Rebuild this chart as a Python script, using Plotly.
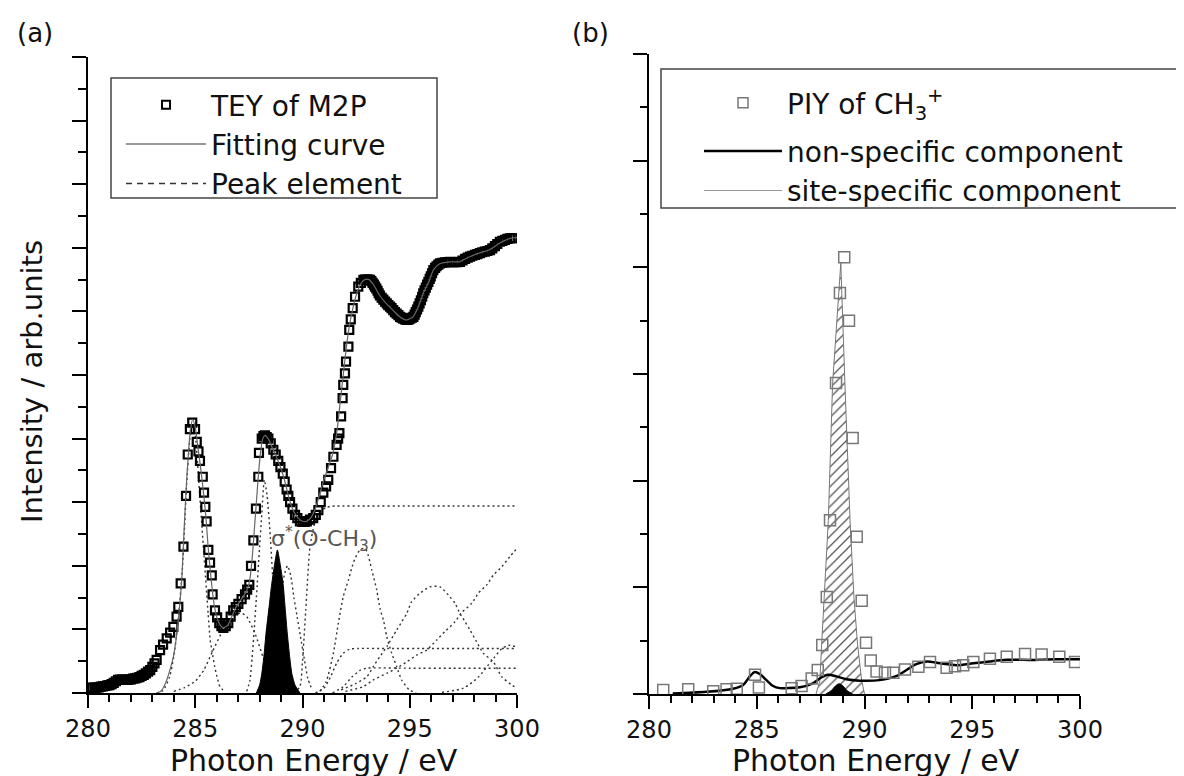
import plotly.graph_objects as go

FONT = "DejaVu Sans"

# ---------------- Panel (a): TEY of M2P ----------------
tey_x = [280.0, 280.1, 280.2, 280.3, 280.4, 280.5, 280.6, 280.7, 280.8, 280.9, 281.0, 281.1, 281.2, 281.3,
         281.4, 281.5, 281.6, 281.7, 281.8, 281.9, 282.0, 282.1, 282.2, 282.3, 282.4, 282.5, 282.6, 282.7,
         282.8, 282.9, 283.0, 283.1, 283.2, 283.36, 283.5, 283.67, 283.83, 283.98, 284.13, 284.21,
         284.32, 284.45, 284.57, 284.65, 284.75, 284.86, 284.99, 285.07, 285.15, 285.22, 285.35, 285.41,
         285.47, 285.53, 285.61, 285.69, 285.77, 285.81, 285.92, 286.02, 286.12, 286.22, 286.31, 286.42,
         286.54, 286.65, 286.77, 286.89, 287.01, 287.16, 287.32, 287.42, 287.52, 287.6, 287.71, 287.83,
         287.94, 287.97, 288.1, 288.18, 288.25, 288.33, 288.41, 288.52, 288.64, 288.75, 288.87, 288.97,
         289.08, 289.17, 289.26, 289.34, 289.42, 289.53, 289.65, 289.76, 289.88, 290.0, 290.1, 290.2,
         290.35, 290.5, 290.62, 290.74, 290.85, 290.97, 291.1, 291.2, 291.33, 291.44, 291.59, 291.66,
         291.72, 291.8, 291.87, 291.9, 291.98, 292.03, 292.14, 292.18, 292.25, 292.34, 292.45, 292.6,
         292.72, 292.84, 292.92, 293.0, 293.08, 293.15, 293.21, 293.27, 293.33, 293.38, 293.44, 293.5,
         293.55, 293.61, 293.69, 293.77, 293.85, 293.93, 294.0, 294.08, 294.15, 294.23, 294.31, 294.39,
         294.47, 294.55, 294.62, 294.7, 294.78, 294.86, 294.94, 295.02, 295.1, 295.17, 295.23, 295.28,
         295.34, 295.4, 295.46, 295.52, 295.58, 295.63, 295.69, 295.75, 295.81, 295.87, 295.93, 295.98,
         296.04, 296.1, 296.18, 296.25, 296.33, 296.41, 296.52, 296.64, 296.76, 296.88, 296.99, 297.1,
         297.22, 297.34, 297.46, 297.58, 297.7, 297.81, 297.92, 298.04, 298.15, 298.27, 298.38, 298.5,
         298.62, 298.74, 298.85, 298.97, 299.08, 299.2, 299.32, 299.44, 299.55, 299.67, 299.78, 299.9]
tey_y = [0.16, 0.16, 0.16, 0.17, 0.17, 0.18, 0.2, 0.21, 0.22, 0.24, 0.25, 0.28, 0.32, 0.37,
         0.41, 0.42, 0.42, 0.41, 0.41, 0.42, 0.43, 0.45, 0.46, 0.48, 0.5, 0.54, 0.57, 0.62,
         0.67, 0.72, 0.82, 0.93, 1.04, 1.35, 1.52, 1.72, 1.9, 2.08, 2.4, 2.71,
         3.45, 4.6, 6.2, 7.5, 8.3, 8.5, 8.3, 7.9, 7.6, 7.3, 6.8, 6.3,
         5.85, 5.4, 4.5, 4.1, 3.7, 3.1, 2.6, 2.38, 2.2, 2.1, 2.05, 2.1,
         2.2, 2.4, 2.6, 2.7, 2.8, 2.95, 3.1, 3.25, 3.4, 4.0, 4.8, 5.8,
         6.8, 7.55, 8.0, 8.08, 8.1, 8.05, 8.0, 7.85, 7.65, 7.5, 7.3, 7.1,
         6.9, 6.65, 6.4, 6.2, 6.0, 5.8, 5.6, 5.5, 5.4, 5.38, 5.38, 5.4,
         5.45, 5.5, 5.6, 5.75, 6.0, 6.3, 6.5, 6.7, 7.07, 7.43, 7.8, 8.0,
         8.17, 8.7, 9.27, 9.69, 10.05, 10.42, 10.89, 11.42, 11.75, 12.1, 12.46, 12.78,
         12.9, 12.99, 13.0, 13.0, 13.0, 12.99, 12.95, 12.9, 12.84, 12.78, 12.72, 12.65,
         12.57, 12.5, 12.43, 12.37, 12.31, 12.25, 12.2, 12.15, 12.1, 12.04, 11.98, 11.93,
         11.88, 11.83, 11.8, 11.77, 11.75, 11.73, 11.74, 11.77, 11.8, 11.83, 11.9, 11.98,
         12.06, 12.15, 12.25, 12.35, 12.46, 12.57, 12.66, 12.75, 12.84, 12.93, 13.02, 13.1,
         13.2, 13.3, 13.37, 13.42, 13.47, 13.51, 13.53, 13.54, 13.55, 13.56, 13.55, 13.55,
         13.55, 13.56, 13.6, 13.65, 13.69, 13.72, 13.75, 13.78, 13.8, 13.83, 13.86, 13.88,
         13.9, 13.93, 13.98, 14.05, 14.12, 14.19, 14.22, 14.25, 14.28, 14.3, 14.3, 14.3]

fit_x = [283.2, 283.36, 283.5, 283.67, 283.85, 283.98, 284.1, 284.21, 284.3, 284.37, 284.48, 284.6,
         284.7, 284.78, 284.88, 285.0, 285.1, 285.2, 285.3, 285.4, 285.5, 285.6, 285.7, 285.8, 285.9,
         286.0, 286.15, 286.3, 286.5, 286.7, 286.9, 287.1, 287.3, 287.45, 287.55, 287.65, 287.75,
         287.85, 287.95, 288.05, 288.15, 288.25, 288.4, 288.6, 288.8, 289.0, 289.2, 289.4, 289.6,
         289.8, 290.0, 290.2, 290.4, 290.6, 290.8, 291.0, 291.2, 291.4, 291.6, 291.75, 291.9, 292.05,
         292.2, 292.35, 292.5, 292.7, 292.9, 293.1, 293.3, 293.6, 293.9, 294.2, 294.5, 294.85, 295.15,
         295.4, 295.65, 295.9, 296.1, 296.4, 296.9, 297.3, 297.8, 298.3, 298.7, 299.2, 299.7, 300.0]
fit_y = [0.0, 0.04, 0.15, 0.41, 0.8, 1.14, 1.65, 2.3, 2.95, 3.55, 5.13, 6.7,
         7.7, 8.3, 8.6, 8.35, 7.85, 7.35, 6.8, 6.2, 5.5, 4.6, 3.85, 3.2, 2.7,
         2.4, 2.15, 2.05, 2.12, 2.4, 2.7, 2.9, 3.1, 3.3, 3.6, 4.2, 5.1,
         6.0, 6.9, 7.6, 8.0, 8.1, 8.0, 7.7, 7.4, 7.05, 6.6, 6.05, 5.7,
         5.5, 5.4, 5.4, 5.52, 5.8, 6.25, 6.7, 7.1, 7.5, 8.2, 9.1, 10.0, 10.9,
         11.6, 12.1, 12.5, 12.85, 13.0, 13.0, 12.85, 12.5, 12.25, 12.05, 11.85, 11.73, 11.83,
         12.15, 12.6, 12.95, 13.3, 13.5, 13.56, 13.56, 13.72, 13.85, 13.93, 14.15, 14.3, 14.32]

# Peak elements (dotted)
pk1_x = [283.2, 283.5, 283.8, 284.0, 284.2, 284.4, 284.5, 284.6, 284.75, 284.86, 285.0, 285.2, 285.4,
         285.6, 285.7, 285.8, 285.9, 286.0, 286.15, 286.4]
pk1_y = [0.0, 0.08, 0.5, 1.15, 2.25, 3.9, 5.2, 6.6, 8.0, 8.4, 8.1, 6.3, 4.4,
         2.5, 1.65, 1.25, 0.85, 0.55, 0.2, 0.03]
pkb_x = [284.0, 284.5, 285.0, 285.4, 285.8, 286.2, 286.6, 287.0, 287.2, 287.4, 287.8, 288.2, 288.6, 289.0, 289.4]
pkb_y = [0.05, 0.17, 0.37, 0.72, 1.3, 1.85, 2.3, 2.5, 2.5, 2.4, 1.85, 1.05, 0.45, 0.12, 0.0]
pk2_x = [287.4, 287.55, 287.65, 287.75, 287.85, 288.0, 288.1, 288.22, 288.35, 288.5, 288.65, 288.8,
         288.95, 289.1, 289.3]
pk2_y = [0.05, 0.4, 1.1, 2.0, 3.0, 4.6, 5.6, 6.7, 6.2, 4.9, 3.2, 1.7, 0.8, 0.3, 0.05]
pk3_x = [288.2, 288.5, 288.8, 289.0, 289.15, 289.3, 289.45, 289.6, 289.75, 289.9, 290.1, 290.25, 290.45]
pk3_y = [0.1, 0.4, 1.8, 3.0, 3.7, 4.0, 3.7, 3.0, 2.4, 1.8, 1.0, 0.45, 0.1]
step1_x = [289.6, 289.88, 290.0, 290.15, 290.35, 290.55, 290.8, 291.1, 291.3, 291.6, 293.0, 295.0, 297.0, 300.0]
step1_y = [0.0, 0.2, 1.0, 2.6, 4.6, 5.3, 5.7, 5.83, 5.87, 5.88, 5.88, 5.88, 5.88, 5.88]
step2_x = [290.6, 291.0, 291.3, 291.6, 291.9, 292.2, 292.6, 294.0, 296.0, 298.0, 300.0]
step2_y = [0.0, 0.15, 0.5, 0.95, 1.25, 1.38, 1.4, 1.4, 1.4, 1.4, 1.4]
step3_x = [291.4, 291.9, 292.3, 292.7, 293.0, 295.0, 297.0, 300.0]
step3_y = [0.0, 0.2, 0.5, 0.72, 0.78, 0.78, 0.78, 0.78]
pk5_x = [290.8, 291.1, 291.44, 291.67, 291.9, 292.14, 292.29, 292.45, 292.68, 292.85, 292.99, 293.23,
         293.46, 293.61, 293.77, 293.93, 294.16, 294.39, 294.63, 294.98, 295.3]
pk5_y = [0.05, 0.35, 1.25, 2.19, 3.03, 3.55, 3.92, 4.23, 4.5, 4.55, 4.47, 3.87,
         3.24, 2.66, 2.3, 1.77, 1.25, 0.83, 0.4, 0.1, 0.0]
pk6_x = [291.8, 292.5, 293.0, 293.3, 293.6, 293.93, 294.39, 294.63, 294.86, 295.09, 295.48, 295.94,
         296.41, 296.8, 297.11, 297.34, 297.58, 297.81, 298.12, 298.43, 298.9, 299.29, 299.76, 300.0]
pk6_y = [0.1, 0.3, 0.51, 0.83, 1.14, 1.46, 1.98, 2.24, 2.5, 2.87, 3.14, 3.34,
         3.34, 3.08, 2.82, 2.5, 2.24, 1.98, 1.61, 1.25, 0.98, 0.51, 0.25, 0.15]
pk7_x = [292.0, 292.83, 293.3, 293.93, 294.39, 294.86, 295.32, 295.79, 296.26, 296.64, 297.11, 297.42,
         297.89, 298.2, 298.59, 298.9, 299.29, 299.67, 300.0]
pk7_y = [0.05, 0.2, 0.41, 0.62, 0.78, 0.98, 1.19, 1.35, 1.67, 1.93, 2.24, 2.53,
         2.82, 3.14, 3.4, 3.71, 3.97, 4.29, 4.55]
pk8_x = [296.5, 297.5, 298.2, 298.8, 299.3, 299.6, 300.0]
pk8_y = [0.02, 0.15, 0.5, 1.0, 1.4, 1.5, 1.45]

# sigma*(O-CH3) element (filled black)
sig_x = [287.85, 288.0, 288.1, 288.2, 288.3, 288.45, 288.56, 288.7, 288.83, 288.96, 289.1, 289.2,
         289.29, 289.4, 289.5, 289.65, 289.88]
sig_y = [0.0, 0.25, 0.6, 1.15, 1.88, 2.75, 3.4, 4.05, 4.5, 4.05, 3.4, 2.6,
         1.88, 1.15, 0.62, 0.25, 0.0]

# ---------------- Panel (b): PIY of CH3+ ----------------
piy_x = [280.66, 281.82, 282.98, 283.6, 284.07, 284.92, 285.1, 286.62, 287.08, 287.55, 287.83, 288.04,
         288.25, 288.4, 288.68, 288.86, 289.06, 289.28, 289.45, 289.64, 289.87, 290.07, 290.29, 290.56,
         290.95, 291.34, 291.88, 292.5, 293.04, 293.81, 294.2, 294.58, 295.05, 295.82, 296.6, 297.45,
         298.22, 299.04, 299.77]
piy_y = [0.075, 0.09, 0.05, 0.09, 0.1, 0.36, 0.12, 0.11, 0.15, 0.29, 0.45, 0.92,
         1.82, 3.26, 5.83, 7.52, 8.19, 7.0, 4.8, 2.95, 1.75, 0.96, 0.63, 0.42,
         0.4, 0.4, 0.46, 0.51, 0.6, 0.49, 0.52, 0.54, 0.6, 0.66, 0.7, 0.75,
         0.74, 0.7, 0.6]

nonspec_x = [281.1, 282.66, 283.9, 284.37, 284.68, 284.9, 285.14, 285.45, 285.76, 286.07, 286.38, 287.0,
             287.6, 288.0, 288.3, 288.7, 289.16, 289.78, 290.7, 291.5, 291.95, 292.4, 292.9, 293.5,
             294.27, 295.05, 295.8, 296.6, 297.37, 298.14, 298.9, 300.0]
nonspec_y = [0.01, 0.04, 0.1, 0.17, 0.33, 0.41, 0.375, 0.26, 0.15, 0.11, 0.11, 0.125,
             0.2, 0.31, 0.36, 0.33, 0.275, 0.25, 0.26, 0.34, 0.45, 0.56, 0.61, 0.575,
             0.54, 0.575, 0.61, 0.64, 0.64, 0.64, 0.65, 0.65]

site_x = [287.75, 287.93, 288.01, 288.14, 288.32, 288.52, 288.9, 289.09, 289.33, 289.51, 289.68, 289.87, 290.0]
site_y = [0.0, 0.25, 0.92, 1.81, 3.25, 5.83, 8.08, 5.83, 3.25, 1.81, 0.92, 0.25, 0.0]

small_x = [288.2, 288.45, 288.65, 288.82, 289.0, 289.2, 289.45]
small_y = [0.0, 0.06, 0.15, 0.19, 0.15, 0.06, 0.0]

x_ticks = [280, 285, 290, 295, 300]
x_ticktext = ["280", "285", "290", "295", "300"]

W, H = 1184, 776
OFF = 8  # page body margin in the browser


def px_x(p):
    return (p - OFF) / W


def px_y(p):
    return 1 - (p - OFF) / H


fig = go.Figure()

dot = dict(color="#333333", width=1.4, dash="2px,3px")

# ---- legend-only entries (a)
fig.add_trace(go.Scatter(x=[None], y=[None], mode="markers", name="TEY of M2P",
                         marker=dict(symbol="square-open", size=8, color="black", line=dict(width=2)),
                         legend="legend", xaxis="x", yaxis="y"))
fig.add_trace(go.Scatter(x=[None], y=[None], mode="lines", name="Fitting curve",
                         line=dict(color="#777777", width=1.5),
                         legend="legend", xaxis="x", yaxis="y"))
fig.add_trace(go.Scatter(x=[None], y=[None], mode="lines", name="Peak element",
                         line=dict(color="#333333", width=1.4, dash="6px,5px"),
                         legend="legend", xaxis="x", yaxis="y"))

# ---- peak elements
for xs, ys in [(pk1_x, pk1_y), (pkb_x, pkb_y), (pk2_x, pk2_y), (pk3_x, pk3_y),
               (step1_x, step1_y), (step2_x, step2_y), (step3_x, step3_y),
               (pk5_x, pk5_y), (pk6_x, pk6_y), (pk7_x, pk7_y), (pk8_x, pk8_y)]:
    fig.add_trace(go.Scatter(x=xs, y=ys, mode="lines", line=dict(**dot, shape="spline", smoothing=0.6),
                             showlegend=False, xaxis="x", yaxis="y", hoverinfo="skip"))

fig.add_trace(go.Scatter(x=sig_x, y=sig_y, mode="lines", fill="tozeroy", fillcolor="black",
                         line=dict(color="black", width=1, shape="spline", smoothing=0.5),
                         showlegend=False, xaxis="x", yaxis="y"))

fig.add_trace(go.Scatter(x=tey_x, y=tey_y, mode="markers",
                         marker=dict(symbol="square-open", size=8, color="black", line=dict(width=2.2)),
                         showlegend=False, xaxis="x", yaxis="y"))

fig.add_trace(go.Scatter(x=fit_x, y=fit_y, mode="lines",
                         line=dict(color="#666666", width=1.2, shape="spline", smoothing=0.6),
                         showlegend=False, xaxis="x", yaxis="y"))

# ---- legend-only entries (b)
fig.add_trace(go.Scatter(x=[None], y=[None], mode="markers", name="PIY of CH<sub>3</sub><sup>+</sup>",
                         marker=dict(symbol="square-open", size=10, color="#777777", line=dict(width=1.5)),
                         legend="legend2", legendgroup="g1", xaxis="x2", yaxis="y2"))
fig.add_trace(go.Scatter(x=[None], y=[None], mode="lines", name="non-specific component",
                         line=dict(color="black", width=2.5),
                         legend="legend2", legendgroup="g2", xaxis="x2", yaxis="y2"))
fig.add_trace(go.Scatter(x=[None], y=[None], mode="lines", name="site-specific component",
                         line=dict(color="#999999", width=1),
                         legend="legend2", legendgroup="g2", xaxis="x2", yaxis="y2"))

fig.add_trace(go.Scatter(x=site_x, y=site_y, mode="lines", fill="tozeroy", fillcolor="rgba(0,0,0,0)",
                         fillpattern=dict(shape="/", fgcolor="#555555", bgcolor="white",
                                          size=7, solidity=0.18, fillmode="replace"),
                         line=dict(color="#777777", width=1),
                         showlegend=False, xaxis="x2", yaxis="y2"))
fig.add_trace(go.Scatter(x=small_x, y=small_y, mode="lines", fill="tozeroy", fillcolor="black",
                         line=dict(color="black", width=1, shape="spline"),
                         showlegend=False, xaxis="x2", yaxis="y2"))
fig.add_trace(go.Scatter(x=nonspec_x, y=nonspec_y, mode="lines",
                         line=dict(color="black", width=2.5, shape="spline", smoothing=0.8),
                         showlegend=False, xaxis="x2", yaxis="y2"))
fig.add_trace(go.Scatter(x=piy_x, y=piy_y, mode="markers",
                         marker=dict(symbol="square-open", size=11, color="#777777", line=dict(width=1.5)),
                         showlegend=False, xaxis="x2", yaxis="y2"))

axis_common = dict(showline=True, linecolor="black", linewidth=2, showgrid=False, zeroline=False,
                   ticks="outside", tickcolor="black", tickwidth=2, mirror=False)

xcommon = dict(axis_common, range=[280, 300], tickvals=x_ticks, ticktext=x_ticktext, ticklen=13,
               tickfont=dict(family=FONT, size=24, color="#111111"),
               minor=dict(dtick=1, tick0=280, ticklen=7, tickwidth=2, tickcolor="black",
                          ticks="outside", showgrid=False))

legend_font = dict(family=FONT, size=28, color="#111111")
title_font = dict(family=FONT, size=30, color="#111111")

fig.update_layout(
    width=W, height=H,
    margin=dict(l=0, r=0, t=0, b=0, autoexpand=False),
    paper_bgcolor="white", plot_bgcolor="white",
    font=dict(family=FONT, color="#111111"),
    xaxis=dict(xcommon, domain=[px_x(88), px_x(517)], anchor="y"),
    yaxis=dict(axis_common, domain=[px_y(693), px_y(57)], anchor="x", range=[0, 20], dtick=2, tick0=0,
               ticklen=14, showticklabels=False,
               minor=dict(dtick=1, tick0=0, ticklen=8, tickwidth=2, tickcolor="black",
                          ticks="outside", showgrid=False)),
    xaxis2=dict(xcommon, domain=[px_x(649), px_x(1080)], anchor="y2"),
    yaxis2=dict(axis_common, domain=[px_y(694), px_y(54)], anchor="x2", range=[0, 12], dtick=2, tick0=0,
                ticklen=14, showticklabels=False,
                minor=dict(dtick=1, tick0=0, ticklen=7, tickwidth=2, tickcolor="black",
                           ticks="outside", showgrid=False)),
    legend=dict(x=px_x(121), y=px_y(80), xanchor="left", yanchor="top",
                borderwidth=0, bgcolor="rgba(0,0,0,0)", font=legend_font,
                itemwidth=80, traceorder="normal", tracegroupgap=0),
    legend2=dict(x=px_x(699), y=px_y(78), xanchor="left", yanchor="top",
                 borderwidth=0, bgcolor="rgba(0,0,0,0)", font=legend_font,
                 itemwidth=78, traceorder="grouped", tracegroupgap=9),
    shapes=[
        dict(type="rect", xref="paper", yref="paper", x0=px_x(111), x1=px_x(437), y0=px_y(198), y1=px_y(78),
             line=dict(color="#444444", width=1.5), fillcolor="rgba(0,0,0,0)", layer="above"),
        dict(type="rect", xref="paper", yref="paper", x0=px_x(661), x1=px_x(1215), y0=px_y(208), y1=px_y(69),
             line=dict(color="#444444", width=1.5), fillcolor="rgba(0,0,0,0)", layer="above"),
    ],
    annotations=[
        dict(text="(a)", x=px_x(35), y=px_y(33), xref="paper", yref="paper", showarrow=False,
             xanchor="center", yanchor="middle", font=dict(family=FONT, size=26, color="#111111")),
        dict(text="(b)", x=px_x(590), y=px_y(33), xref="paper", yref="paper", showarrow=False,
             xanchor="center", yanchor="middle", font=dict(family=FONT, size=26, color="#111111")),
        dict(text="Photon Energy / eV", x=px_x(314), y=px_y(760), xref="paper", yref="paper",
             xanchor="center", yanchor="middle", showarrow=False, font=title_font),
        dict(text="Photon Energy / eV", x=px_x(876), y=px_y(760), xref="paper", yref="paper",
             xanchor="center", yanchor="middle", showarrow=False, font=title_font),
        dict(text="Intensity / arb.units", x=px_x(32), y=px_y(382), xref="paper", yref="paper",
             xanchor="center", yanchor="middle", showarrow=False, textangle=-90,
             font=dict(family=FONT, size=29, color="#111111")),
        dict(text="σ<sup>*</sup>(O-CH<sub>3</sub>)", x=288.45, y=4.85, xref="x", yref="y",
             xanchor="left", yanchor="middle", showarrow=False,
             font=dict(family=FONT, size=22, color="#555555")),
    ],
)

fig.write_html("out.html", config={"displayModeBar": False})
